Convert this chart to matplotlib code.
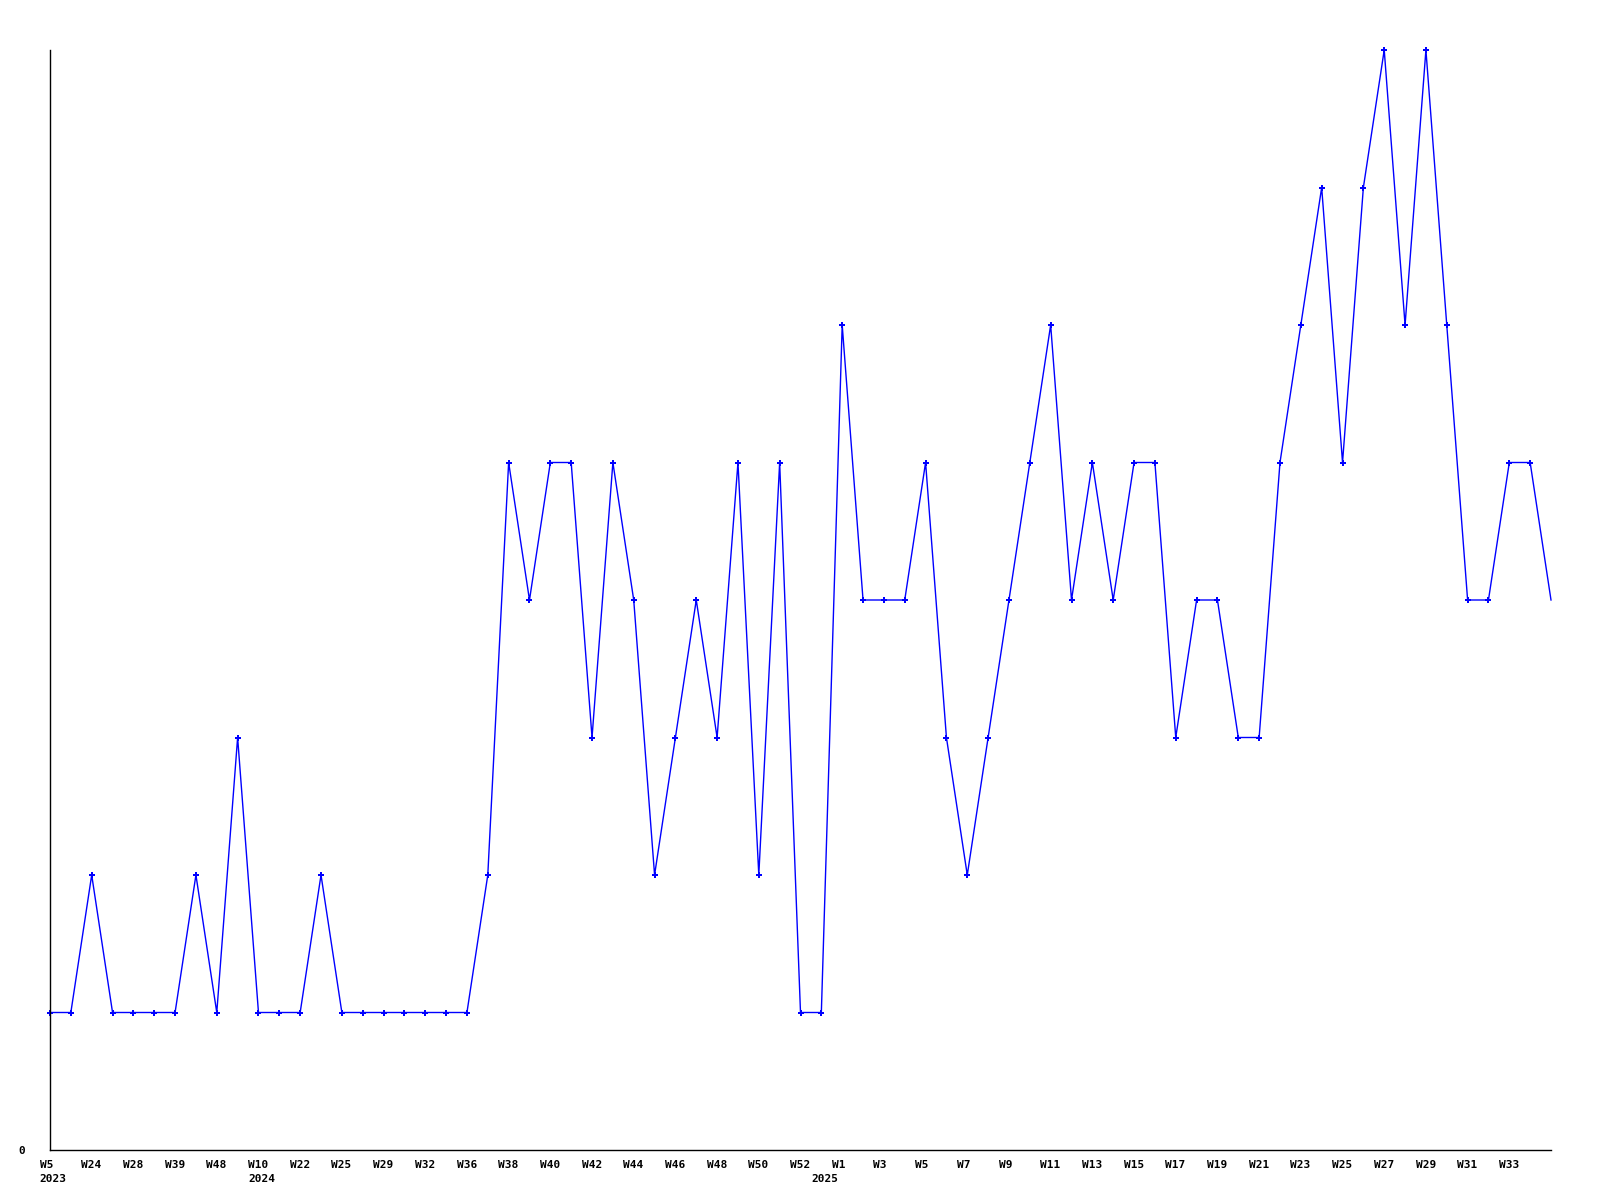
import matplotlib
matplotlib.use("Agg")
import matplotlib.pyplot as plt

# Data: weekly values (one point per week)
values = [1, 1, 2, 1, 1, 1, 1, 2, 1, 3,
          1, 1, 1, 2, 1, 1, 1, 1, 1, 1,
          1, 2, 5, 4, 5, 5, 3, 5, 4, 2,
          3, 4, 3, 5, 2, 5, 1, 1, 6, 4,
          4, 4, 5, 3, 2, 3, 4, 5, 6, 4,
          5, 4, 5, 5, 3, 4, 4, 3, 3, 5,
          6, 7, 5, 7, 8, 6, 8, 6, 4, 4,
          5, 5, 4]

# one week label on every second point
week_labels = ["W5", "W24", "W28", "W39", "W48", "W10", "W22", "W25", "W29",
               "W32", "W36", "W38", "W40", "W42", "W44", "W46", "W48", "W50",
               "W52", "W1", "W3", "W5", "W7", "W9", "W11", "W13", "W15", "W17",
               "W19", "W21", "W23", "W25", "W27", "W29", "W31", "W33"]
year_labels = ["2023", "2024", "2025"]
year_point_index = [0, 10, 37]

W, H = 1600, 1200
fig = plt.figure(figsize=(16, 12), dpi=100)
fig.patch.set_facecolor("white")

ax_left, ax_right, ax_top, ax_bottom = 50, 1551, 50, 1150
ax = fig.add_axes([ax_left / W, (H - ax_bottom) / H,
                   (ax_right - ax_left) / W, (ax_bottom - ax_top) / H])

n = len(values)
xs = list(range(n))
ax.plot(xs, values, color="#0000ff", lw=1.0, marker="P", markersize=4.2,
        markeredgewidth=0, markevery=list(range(n - 1)), clip_on=False,
        solid_joinstyle="miter")

for s in ["top", "right"]:
    ax.spines[s].set_visible(False)
for s in ["left", "bottom"]:
    ax.spines[s].set_linewidth(1.0)
    ax.spines[s].set_color("black")

mono = dict(family="DejaVu Sans Mono", fontweight="bold", fontsize=8)

ax.set_xlim(0, n - 1)
ax.set_ylim(0, 8)

ax.set_yticks([0])
ax.set_yticklabels(["0"], **mono)
ax.tick_params(axis="y", length=0, pad=18)
ax.set_xticks([])

# labels start ~10 px left of their point
shift = 10.4 / ((ax_right - ax_left - 1) / (n - 1))
xform = ax.get_xaxis_transform()
for k, lab in enumerate(week_labels):
    ax.text(2 * k - shift, -0.0090, lab, ha="left", va="top",
            transform=xform, clip_on=False, **mono)

for lab, i in zip(year_labels, year_point_index):
    ax.text(i - shift, -0.0218, lab, ha="left", va="top",
            transform=xform, clip_on=False, **mono)

fig.savefig("out.png", dpi=100, facecolor="white")
